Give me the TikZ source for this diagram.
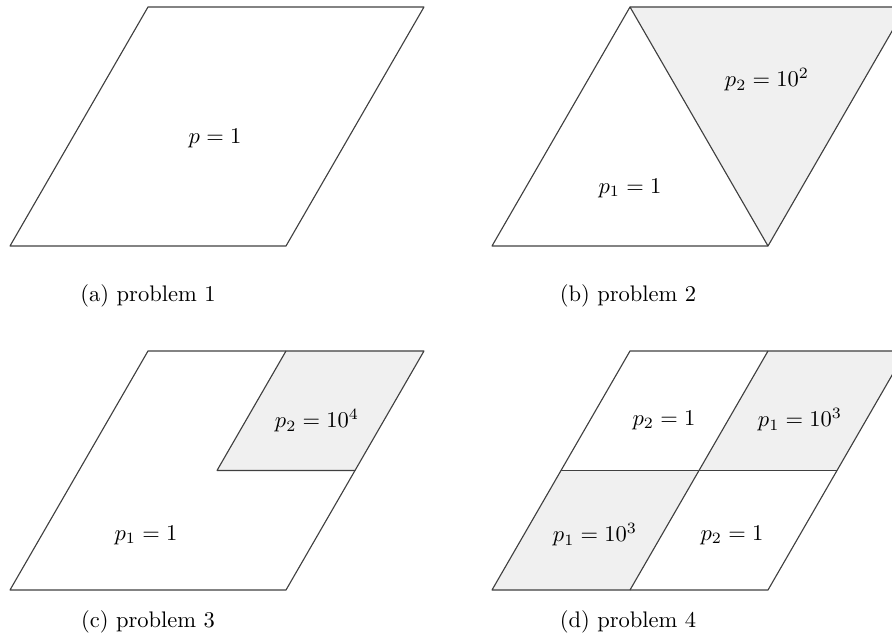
\documentclass[tikz,border=0pt]{standalone}
\begin{document}
\begin{tikzpicture}[x=0.444pt,y=-0.444pt,
  edge/.style={draw=black!75, line width=0.5pt, line join=round},
  greyfill/.style={fill=black!6},
  lab/.style={inner sep=0pt}]
\useasboundingbox (0,0) rectangle (892,637);
\clip (0,0) rectangle (892,637);
% (a)
\coordinate (aBL) at (10,246); \coordinate (aBR) at (286,246);
\coordinate (aTR) at (424,7); \coordinate (aTL) at (148,7);
\draw[edge] (aBL) -- (aBR) -- (aTR) -- (aTL) -- cycle;
\node[lab] (la) at (215,138) {$p=1$};
\node[lab] (ca) at (148,296) {(a) problem 1};
% (b)
\coordinate (bBL) at (492,246); \coordinate (bBR) at (768,246);
\coordinate (bTR) at (906,7); \coordinate (bTL) at (630,7);
\fill[greyfill] (bTL) -- (bTR) -- (bBR) -- cycle;
\draw[edge] (bBL) -- (bBR) -- (bTR) -- (bTL) -- cycle;
\draw[edge] (bTL) -- (bBR);
\node[lab] (lb1) at (630,188) {$p_1=1$};
\node[lab] (lb2) at (767,80) {$p_2=10^2$};
\node[lab] (cb) at (628,296) {(b) problem 2};
% (c)
\coordinate (cBL) at (10,590); \coordinate (cBR) at (286,590);
\coordinate (cTR) at (424,351); \coordinate (cTL) at (148,351);
\coordinate (cTM) at (286,351); \coordinate (cRM) at (355,470.5);
\coordinate (cC) at (217,470.5);
\fill[greyfill] (cTM) -- (cTR) -- (cRM) -- (cC) -- cycle;
\draw[edge] (cBL) -- (cBR) -- (cTR) -- (cTL) -- cycle;
\draw[edge] (cTM) -- (cC) -- (cRM);
\node[lab] (lc1) at (146,535) {$p_1=1$};
\node[lab] (lc2) at (317,421) {$p_2=10^4$};
\node[lab] (cc) at (148,622) {(c) problem 3};
% (d)
\coordinate (dBL) at (492,590); \coordinate (dBR) at (768,590);
\coordinate (dTR) at (906,351); \coordinate (dTL) at (630,351);
\coordinate (dTM) at (768,351); \coordinate (dBM) at (630,590);
\coordinate (dLM) at (561,470.5); \coordinate (dRM) at (837,470.5);
\coordinate (dC) at (699,470.5);
\fill[greyfill] (dBL) -- (dBM) -- (dC) -- (dLM) -- cycle;
\fill[greyfill] (dC) -- (dTM) -- (dTR) -- (dRM) -- cycle;
\draw[edge] (dBL) -- (dBR) -- (dTR) -- (dTL) -- cycle;
\draw[edge] (dTM) -- (dBM);
\draw[edge] (dLM) -- (dRM);
\node[lab] (ld1) at (595,535) {$p_1=10^3$};
\node[lab] (ld2) at (732,535) {$p_2=1$};
\node[lab] (ld3) at (664,420) {$p_2=1$};
\node[lab] (ld4) at (800,420) {$p_1=10^3$};
\node[lab] (cd) at (628,622) {(d) problem 4};
\end{tikzpicture}
\end{document}
